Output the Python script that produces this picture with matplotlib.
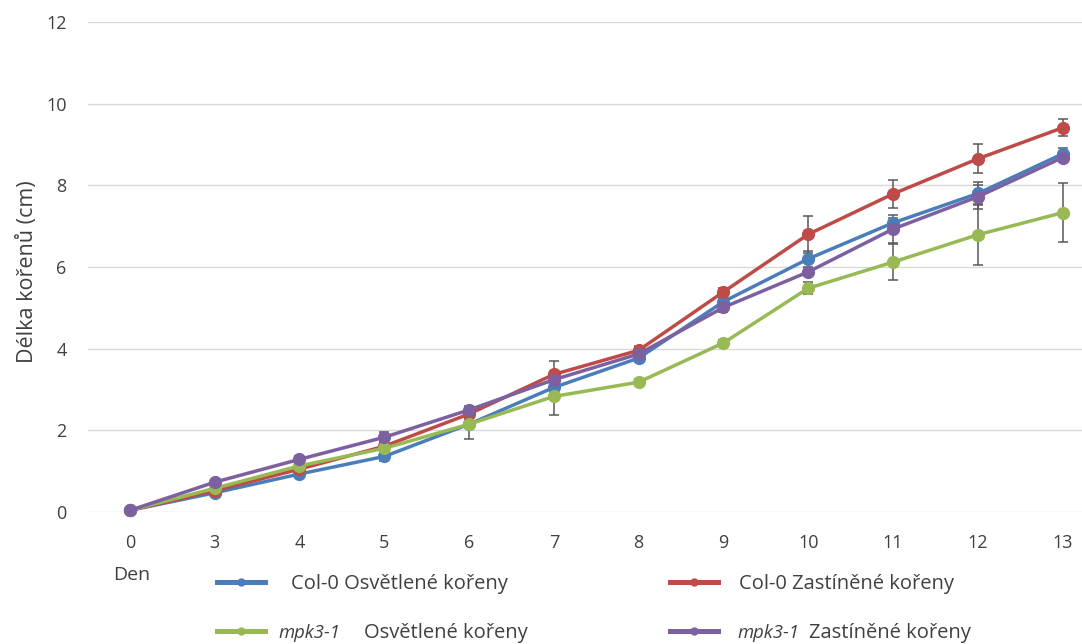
import matplotlib
matplotlib.use("Agg")
import matplotlib.pyplot as plt
from matplotlib.lines import Line2D

# days on the x axis (categories)
days = ["0", "3", "4", "5", "6", "7", "8", "9", "10", "11", "12", "13"]

# mean root length (cm)
col0_light = [0.04, 0.47, 0.93, 1.36, 2.15, 3.05, 3.77, 5.15, 6.20, 7.08, 7.80, 8.77]
col0_shade = [0.04, 0.52, 1.05, 1.61, 2.40, 3.37, 3.96, 5.39, 6.80, 7.79, 8.65, 9.41]
mpk_light = [0.04, 0.58, 1.13, 1.56, 2.15, 2.83, 3.18, 4.14, 5.48, 6.12, 6.79, 7.33]
mpk_shade = [0.04, 0.73, 1.29, 1.83, 2.50, 3.24, 3.87, 5.01, 5.88, 6.93, 7.72, 8.68]

# standard errors
col0_light_err = [0, 0.05, 0.07, 0.10, 0.10, 0.12, 0.10, 0.10, 0.20, 0.12, 0.27, 0.15]
col0_shade_err = [0, 0.05, 0.07, 0.08, 0.10, 0.33, 0.10, 0.10, 0.45, 0.35, 0.35, 0.21]
mpk_light_err = [0, 0.05, 0.07, 0.10, 0.36, 0.46, 0.08, 0.08, 0.15, 0.45, 0.75, 0.72]
mpk_shade_err = [0, 0.05, 0.07, 0.12, 0.10, 0.10, 0.10, 0.10, 0.10, 0.35, 0.30, 0.12]

plt.rcParams["font.family"] = ["Open Sans", "DejaVu Sans"]

TXT = "#404040"

fig = plt.figure(figsize=(10.82, 6.44), dpi=100)
ax = fig.add_axes([87.5 / 1082, 1 - 512 / 644, 1017.5 / 1082, 490 / 644])

x = list(range(len(days)))
series = [
    (col0_light, col0_light_err, "#4A7EBB"),
    (col0_shade, col0_shade_err, "#BE4B48"),
    (mpk_light, mpk_light_err, "#98B954"),
    (mpk_shade, mpk_shade_err, "#7D60A0"),
]

for vals, err, color in series:
    ax.errorbar(x, vals, yerr=err, fmt="none", ecolor="#595959",
                elinewidth=1.1, capsize=3.5, capthick=1.1, zorder=2)
    ax.plot(x, vals, color=color, lw=2.5, marker="o", markersize=8.5,
            zorder=3, clip_on=False)

ax.set_xlim(-0.5, 11.5)
ax.set_ylim(0, 12)
ax.set_xticks(x)
ax.set_xticklabels(days)
ax.set_yticks([0, 2, 4, 6, 8, 10, 12])
ax.tick_params(axis="both", length=0, labelsize=13, colors=TXT)
ax.tick_params(axis="x", pad=16)
ax.tick_params(axis="y", pad=15)
for s in ax.spines.values():
    s.set_visible(False)
ax.yaxis.grid(True, color="#d9d9d9", lw=1)
ax.set_axisbelow(True)

ax.set_ylabel("Délka kořenů (cm)", fontsize=15.5, color=TXT)
ax.yaxis.set_label_coords(-0.049, 0.49)

fig.text(113 / 1082, 1 - 575 / 644, "Den", fontsize=14, color=TXT,
         va="center", ha="left")

# legend: one entry per legend box, placed like the original layout
row1 = 1 - 584 / 644
row2 = 1 - 633 / 644
entries = [
    ("#4A7EBB", "Col-0 Osvětlené kořeny", None, 217, row1, 1.25),
    ("#BE4B48", "Col-0 Zastíněné kořeny", None, 670, row1, 1.05),
    ("#98B954", "Osvětlené kořeny", 278, 217, row2, 4.9),
    ("#7D60A0", "Zastíněné kořeny", 737, 670, row2, 4.5),
]
for color, label, italic_x, hx, ry, pad in entries:
    proxy = Line2D([], [], color=color, lw=3.6, marker="o", markersize=5)
    leg = fig.legend([proxy], [label], loc="center left",
                     bbox_to_anchor=(hx / 1082, ry), frameon=False,
                     fontsize=14.5, handlelength=2.4, handletextpad=pad,
                     borderpad=0, borderaxespad=0, labelcolor=TXT)
    if italic_x is not None:
        fig.text(italic_x / 1082, ry, "mpk3-1", fontsize=13.3, style="italic",
                 color=TXT, va="center", ha="left")

fig.savefig("out.png", dpi=100)
